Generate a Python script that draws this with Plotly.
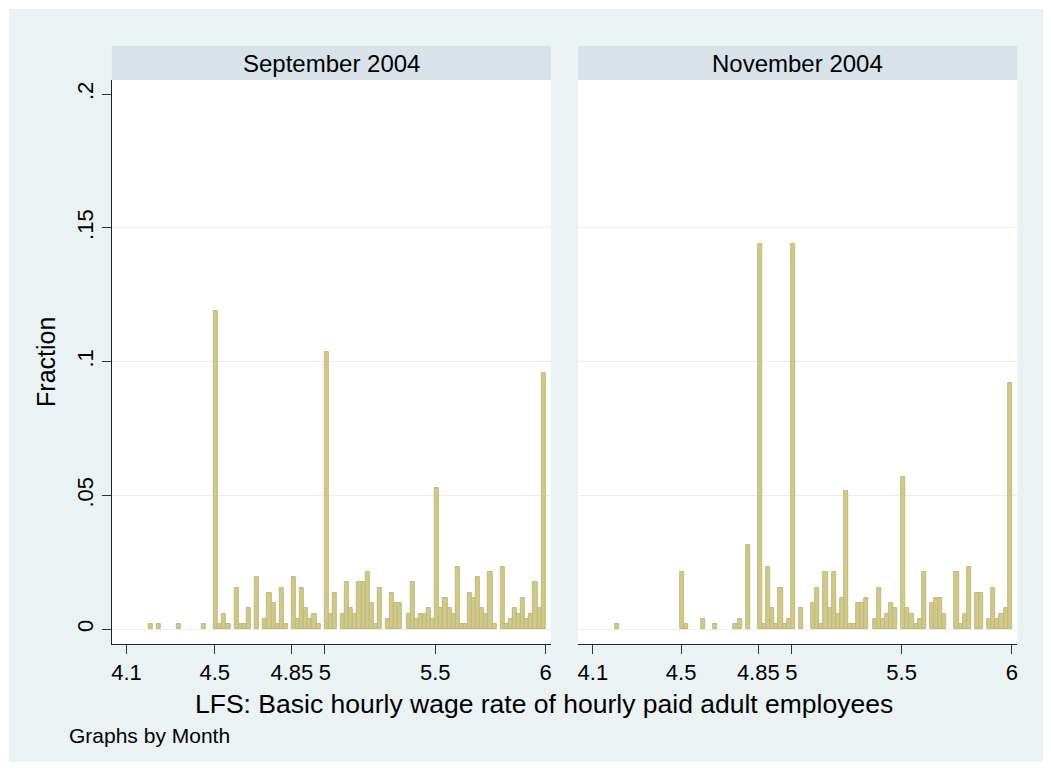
import plotly.graph_objects as go

# ---------------- data ----------------
panel_titles = ["September 2004", "November 2004"]
bin_lo, bin_hi, n_bins = 4.2, 6.0, 97

# fraction of employees in each of the 97 wage bins (4.20 .. 6.00)
sep_fraction = [
    0.00195, 0, 0.00195, 0, 0, 0, 0, 0.00195, 0, 0,
    0, 0, 0, 0.00195, 0, 0, 0.1190, 0.00195, 0.00585, 0.00195,
    0, 0.0156, 0.00195, 0.00195, 0.0078, 0, 0.0195, 0, 0.0039, 0.01365,
    0.00975, 0.00195, 0.0156, 0.00195, 0, 0.0195, 0.0039, 0.0156, 0.0078, 0.0039,
    0.00585, 0.00195, 0, 0.1036, 0.00585, 0.01365, 0, 0.00585, 0.01755, 0.0078,
    0.00585, 0.01755, 0.01755, 0.02145, 0.00975, 0.00195, 0.0156, 0, 0.0039, 0.01365,
    0.00975, 0.00975, 0, 0.00585, 0.01755, 0.0039, 0.00585, 0.00585, 0.0078, 0.0039,
    0.0528, 0.0078, 0.0117, 0.0078, 0.00585, 0.0234, 0.00195, 0.00195, 0.01365, 0.0117,
    0.0195, 0.0078, 0.00585, 0.02145, 0.00195, 0, 0.0234, 0.00195, 0.0039, 0.0078,
    0.00585, 0.0117, 0.0039, 0.00585, 0.01755, 0.0078, 0.0958,
]
nov_fraction = [
    0.00195, 0, 0, 0, 0, 0, 0, 0, 0, 0,
    0, 0, 0, 0, 0, 0, 0.02145, 0.00195, 0, 0,
    0, 0.0039, 0, 0, 0.00195, 0, 0, 0, 0, 0.00195,
    0.0039, 0, 0.0315, 0, 0, 0.1440, 0.00195, 0.0234, 0.0078, 0.00195,
    0.0156, 0.00195, 0.0039, 0.1440, 0, 0.0078, 0, 0, 0.00975, 0.0156,
    0.00195, 0.02145, 0.0078, 0.02145, 0.00585, 0.0117, 0.0517, 0.00195, 0.00195, 0.00975,
    0.00975, 0.0117, 0, 0.0039, 0.0156, 0.0039, 0.00585, 0.00975, 0.0078, 0,
    0.0569, 0.0078, 0.00585, 0.00195, 0.0039, 0.02145, 0, 0.00975, 0.0117, 0.0117,
    0.00585, 0, 0, 0.02145, 0.00195, 0.00585, 0.0234, 0, 0.01365, 0.01365,
    0, 0.0039, 0.0156, 0.0039, 0.00585, 0.0078, 0.0920,
]

x_tick_vals = [4.1, 4.5, 4.85, 5, 5.5, 6]
x_tick_text = ["4.1", "4.5", "4.85", "5", "5.5", "6"]
y_tick_vals = [0, 0.05, 0.1, 0.15, 0.2]
y_tick_text = ["0", ".05", ".1", ".15", ".2"]
grid_vals = [0, 0.05, 0.1, 0.15]

x_title = "LFS: Basic hourly wage rate of hourly paid adult employees"
y_title = "Fraction"
note_text = "Graphs by Month"

# ---------------- layout geometry (page pixels) ----------------
# the html body has an 8px margin, so the figure is drawn 8px in and
# sized to fit the window; positions below are given in page pixels.
OFF = 8
W, H = 1051 - 2 * OFF, 771 - 2 * OFF
FONT = "Liberation Sans, Arial, sans-serif"
panels_px = [(111, 551), (578.3, 1018.3)]
plot_top, plot_bot = 80, 644
strip_top = 46
x_range = [4.0335, 6.0245]
y_range = [-0.0055, 0.2053]

BAR_FILL = "#D0C98C"
BAR_EDGE = "#C2BA77"
BG = "#EAF2F3"
STRIP = "#D7E3E8"
GRID = "#E6EEF1"


def fx(x):
    return (x - OFF) / W


def fy(y):
    return 1 - (y - OFF) / H


bw = (bin_hi - bin_lo) / n_bins
centers = [bin_lo + (i + 0.5) * bw for i in range(n_bins)]

fig = go.Figure()
for p, fr in enumerate([sep_fraction, nov_fraction]):
    xs = [c for c, v in zip(centers, fr) if v > 0]
    ys = [v for v in fr if v > 0]
    fig.add_trace(go.Bar(
        x=xs, y=ys, width=bw,
        marker=dict(color=BAR_FILL, line=dict(color=BAR_EDGE, width=1)),
        xaxis="x" if p == 0 else "x2", yaxis="y" if p == 0 else "y2",
        showlegend=False, hoverinfo="x+y",
    ))

shapes = [
    dict(type="rect", xref="paper", yref="paper", x0=fx(OFF), x1=fx(1044),
         y0=fy(762), y1=fy(9), fillcolor=BG, line=dict(width=0), layer="below"),
]
annotations = []
for p, (x0, x1) in enumerate(panels_px):
    shapes.append(dict(type="rect", xref="paper", yref="paper", x0=fx(x0), x1=fx(x1),
                       y0=fy(plot_bot), y1=fy(plot_top), fillcolor="white",
                       line=dict(width=0), layer="below"))
    shapes.append(dict(type="rect", xref="paper", yref="paper", x0=fx(x0), x1=fx(x1),
                       y0=fy(plot_top), y1=fy(strip_top), fillcolor=STRIP,
                       line=dict(width=0), layer="below"))
    annotations.append(dict(text=panel_titles[p], xref="paper", yref="paper",
                            x=fx((x0 + x1) / 2), y=fy((strip_top + plot_top) / 2 + 1),
                            showarrow=False, font=dict(family=FONT, size=24, color="black"),
                            xanchor="center", yanchor="middle"))

annotations += [
    dict(text=x_title, xref="paper", yref="paper", x=fx(544), y=fy(704),
         showarrow=False, font=dict(family=FONT, size=26.5, color="black"),
         xanchor="center", yanchor="middle"),
    dict(text=y_title, xref="paper", yref="paper", x=fx(45), y=fy(362),
         showarrow=False, textangle=-90, font=dict(family=FONT, size=25, color="black"),
         xanchor="center", yanchor="middle"),
    dict(text=note_text, xref="paper", yref="paper", x=fx(66), y=fy(735),
         showarrow=False, font=dict(family=FONT, size=21, color="black"),
         xanchor="left", yanchor="middle"),
]

common_x = dict(range=x_range, tickvals=x_tick_vals, ticktext=x_tick_text,
                ticks="outside", ticklen=9, tickcolor="#333333", tickwidth=1,
                showline=True, linecolor="#222222", linewidth=1, showgrid=False,
                zeroline=False, tickfont=dict(family=FONT, size=22, color="black"),
                fixedrange=True)
common_y = dict(range=y_range, tickvals=y_tick_vals, ticktext=y_tick_text,
                showgrid=False, zeroline=False,
                minor=dict(tickvals=grid_vals, showgrid=True, gridcolor=GRID,
                           gridwidth=1, ticks=""),
                domain=[fy(plot_bot), fy(plot_top)], fixedrange=True)

fig.update_layout(
    width=W, height=H, margin=dict(l=0, r=0, t=0, b=0),
    paper_bgcolor="white", plot_bgcolor="white", bargap=0,
    xaxis=dict(domain=[fx(panels_px[0][0]), fx(panels_px[0][1])], anchor="y", **common_x),
    xaxis2=dict(domain=[fx(panels_px[1][0]), fx(panels_px[1][1])], anchor="y2", **common_x),
    yaxis=dict(anchor="x", ticks="outside", ticklen=9, tickcolor="#333333",
               showline=True, linecolor="#222222", linewidth=1, tickangle=-90,
               tickfont=dict(family=FONT, size=22, color="black"), **common_y),
    yaxis2=dict(anchor="x2", showticklabels=False, ticks="", showline=False, **common_y),
    shapes=shapes, annotations=annotations,
)

fig.write_html("out.html")
